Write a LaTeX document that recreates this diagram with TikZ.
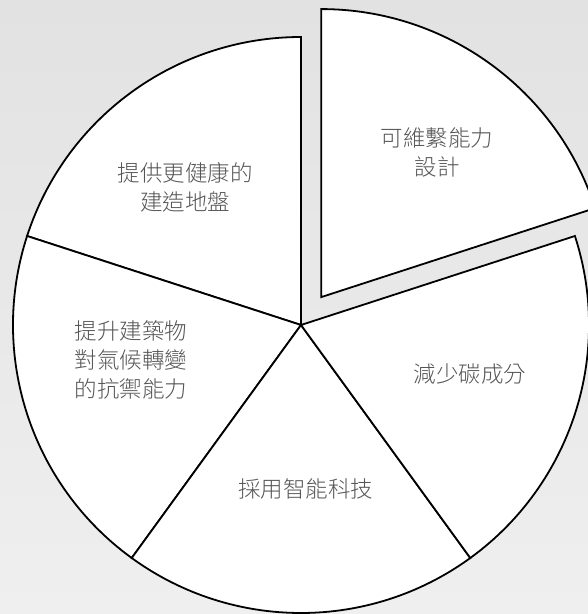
\documentclass[tikz,border=0pt]{standalone}
\usepackage{fontspec}
\newfontfamily\cjk{Noto Sans CJK TC}[UprightFont=* Light]
\definecolor{bgtop}{HTML}{E2E2E2}
\definecolor{bgbot}{HTML}{EFEFEF}
\definecolor{txt}{HTML}{555555}
\begin{document}
\begin{tikzpicture}[x=1pt,y=1pt,
  slice/.style={draw=black, line width=1.8pt, fill=white, line join=miter},
  lbl/.style={font=\cjk\fontsize{22.5}{29}\selectfont, text=txt, align=center, inner sep=0pt}]
\useasboundingbox (0,0) rectangle (588,614);
\begin{scope}
\clip (0,0) rectangle (588,614);
\shade[top color=bgtop, bottom color=bgbot] (0,0) rectangle (588,614);
\coordinate (c) at (301,289);
\coordinate (ce) at ([shift={(54:34.5)}]c);
% slices
\draw[slice] (c) -- ([shift={(90:288)}]c) arc[start angle=90, end angle=162, radius=288] -- cycle;
\draw[slice] (c) -- ([shift={(162:288)}]c) arc[start angle=162, end angle=234, radius=288] -- cycle;
\draw[slice] (c) -- ([shift={(234:288)}]c) arc[start angle=234, end angle=306, radius=288] -- cycle;
\draw[slice] (c) -- ([shift={(306:288)}]c) arc[start angle=306, end angle=378, radius=288] -- cycle;
\draw[slice] (ce) -- ([shift={(18:288)}]ce) arc[start angle=18, end angle=90, radius=288] -- cycle;
\end{scope}
% labels
\node[lbl] (maint) at (437,462) {可維繫能力\\設計};
\node[lbl] (healthy) at (185,427) {提供更健康的\\建造地盤};
\node[lbl] (resil) at (131,254) {提升建築物\\對氣候轉變\\的抗禦能力};
\node[lbl] (carbon) at (470,240) {減少碳成分};
\node[lbl] (smart) at (305.5,125) {採用智能科技};
\end{tikzpicture}
\end{document}
